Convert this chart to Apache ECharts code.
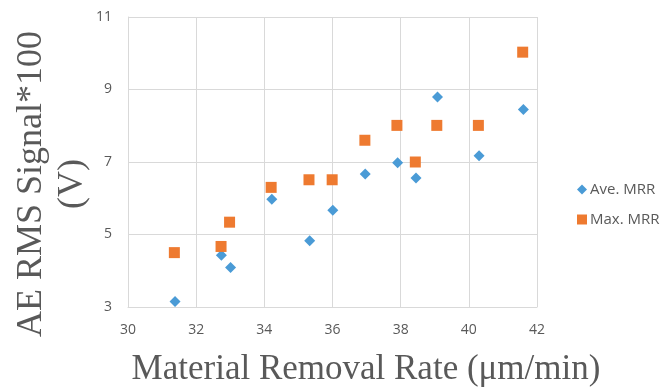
<!DOCTYPE html>
<html>
<head>
<meta charset="utf-8">
<script src="https://cdn.jsdelivr.net/npm/echarts@6/dist/echarts.min.js"></script>
<style>
  html, body { margin: 0; padding: 0; background: #fff; }
  #chart { width: 664px; height: 387px; }
</style>
</head>
<body>
<div id="chart"></div>
<script>
// Values
const aveMrrX = [31.38, 32.74, 33.01, 34.22, 35.33, 36.01, 36.96, 37.91, 38.45, 39.08, 40.30, 41.60];
const aveMrrY = [3.15, 4.43, 4.09, 5.97, 4.83, 5.67, 6.67, 6.98, 6.56, 8.79, 7.17, 8.45];
const maxMrrX = [31.36, 32.73, 32.98, 34.20, 35.31, 35.99, 36.95, 37.89, 38.43, 39.06, 40.28, 41.58];
const maxMrrY = [4.50, 4.67, 5.34, 6.30, 6.51, 6.51, 7.60, 8.01, 7.00, 8.01, 8.01, 10.03];

const seriesNames = ['Ave. MRR', 'Max. MRR'];
const xTitle = 'Material Removal Rate (\u03bcm/min)';
const yTitle = 'AE RMS Signal*100\n(V)';

const tickColor = '#595959';
const gridColor = '#d9d9d9';
const tickFont = '"Open Sans", "Noto Sans", sans-serif';
const titleFont = '"Liberation Serif", "DejaVu Serif", serif';

const chart = echarts.init(document.getElementById('chart'), null, { renderer: 'canvas' });

const zip = (xs, ys) => xs.map((x, i) => [x, ys[i]]);

chart.setOption({
  animation: false,
  grid: { left: 128, right: 127, top: 17, bottom: 80 },
  xAxis: {
    type: 'value',
    min: 30,
    max: 42,
    interval: 2,
    axisLine: { show: true, lineStyle: { color: gridColor } },
    axisTick: { show: false },
    axisLabel: { color: tickColor, fontFamily: tickFont, fontSize: 14, margin: 16 },
    splitLine: { show: true, lineStyle: { color: gridColor } }
  },
  yAxis: {
    type: 'value',
    min: 3,
    max: 11,
    interval: 2,
    axisLine: { show: true, lineStyle: { color: gridColor } },
    axisTick: { show: false },
    axisLabel: { color: tickColor, fontFamily: tickFont, fontSize: 14, margin: 16 },
    splitLine: { show: true, lineStyle: { color: gridColor } }
  },
  legend: {
    orient: 'vertical',
    left: 572,
    top: 177,
    itemGap: 15,
    itemWidth: 10,
    itemHeight: 10,
    textStyle: { color: tickColor, fontFamily: tickFont, fontSize: 15, padding: [0, 0, 0, -2] },
    data: [
      { name: seriesNames[0], icon: 'diamond' },
      { name: seriesNames[1], icon: 'rect' }
    ]
  },
  graphic: [
    {
      type: 'text',
      x: 52,
      y: 184,
      rotation: Math.PI / 2,
      style: {
        text: yTitle,
        fill: tickColor,
        font: '36px ' + titleFont,
        lineHeight: 41,
        align: 'center',
        verticalAlign: 'middle'
      }
    },
    {
      type: 'text',
      x: 366,
      y: 370,
      style: {
        text: xTitle,
        fill: tickColor,
        font: '35px ' + titleFont,
        align: 'center',
        verticalAlign: 'middle'
      }
    }
  ],
  series: [
    {
      name: seriesNames[0],
      type: 'scatter',
      symbol: 'diamond',
      symbolSize: [11, 11],
      itemStyle: { color: '#4a9bd6', opacity: 1 },
      data: zip(aveMrrX, aveMrrY)
    },
    {
      name: seriesNames[1],
      type: 'scatter',
      symbol: 'rect',
      symbolSize: [11, 11],
      itemStyle: { color: '#ee7a30', opacity: 1 },
      data: zip(maxMrrX, maxMrrY)
    }
  ]
});
</script>
</body>
</html>
